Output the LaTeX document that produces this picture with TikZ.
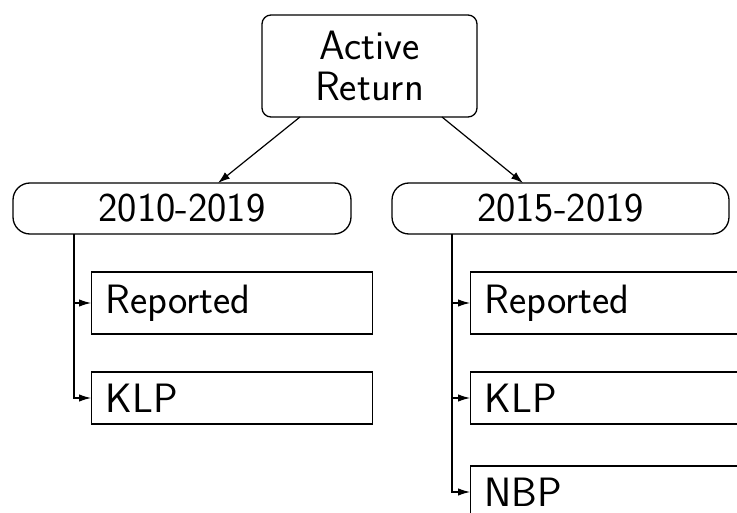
\documentclass[tikz,border=0pt]{standalone}
\usetikzlibrary{arrows.meta}
\begin{document}
\begin{tikzpicture}[x=1pt,y=-1pt,
  every node/.style={font=\sffamily\fontsize{41}{41}\selectfont, line width=1.3pt},
  topbox/.style={draw, rounded corners=9pt, minimum width=215pt, minimum height=102pt, align=center, inner sep=0pt},
  yearbox/.style={draw, rounded corners=17pt, minimum height=51pt, inner sep=0pt},
  leafbox/.style={draw, rectangle, minimum width=281pt, text width=253pt, align=left, inner xsep=14pt, inner ysep=0pt, anchor=west},
  conn/.style={line width=1.2pt, -{Latex[length=12pt,width=8pt]}},
  tree/.style={line width=1.2pt, -{Latex[length=12pt,width=7.5pt]}}
]
\useasboundingbox (0,0) rectangle (737,513);
\clip (0,0) rectangle (737,513);
\node[topbox] (root) at (369.5,66) {Active\\Return};
\node[yearbox, minimum width=338pt] (y1) at (182,208.5) {2010-2019};
\node[yearbox, minimum width=337pt] (y2) at (560.5,208.5) {2015-2019};

\node[leafbox, minimum height=62pt] (r1) at (91,303) {Reported};
\node[leafbox, minimum height=52pt] (k1) at (91,398) {KLP};
\node[leafbox, minimum height=62pt] (r2) at (470,303) {Reported};
\node[leafbox, minimum height=52pt] (k2) at (470,398) {KLP};
\node[leafbox, minimum height=52pt] (n2) at (470,492) {NBP};

\coordinate (a1) at (300,117);
\coordinate (a2) at (442,117);
\coordinate (b1) at (218,183);
\coordinate (b2) at (523,183);
\draw[conn] (a1) -- (b1);
\draw[conn] (a2) -- (b2);

\coordinate (t1) at (74,234);
\coordinate (t2) at (452,234);
\draw[tree] (t1) |- (r1.west);
\draw[tree] (t1) |- (k1.west);
\draw[tree] (t2) |- (r2.west);
\draw[tree] (t2) |- (k2.west);
\draw[tree] (t2) |- (n2.west);
\end{tikzpicture}
\end{document}
